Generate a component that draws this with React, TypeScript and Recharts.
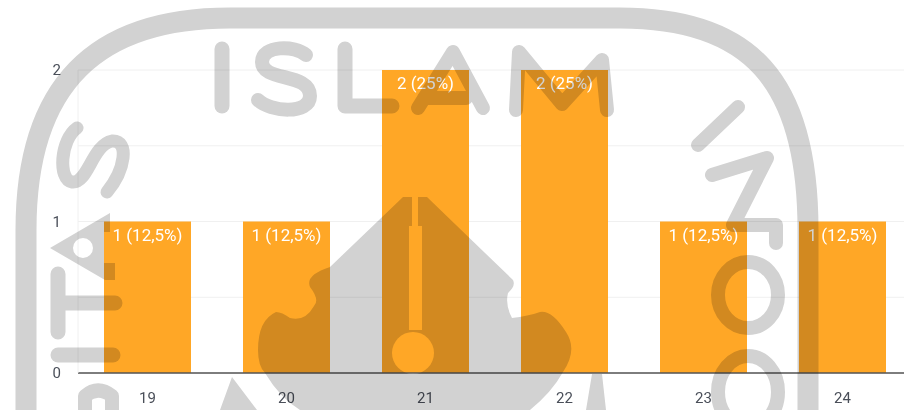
import React from "react";
import { BarChart, Bar, XAxis, YAxis, CartesianGrid, LabelList } from "recharts";

const ages = ["19", "20", "21", "22", "23", "24"];
const counts = [1, 1, 2, 2, 1, 1];
const labels = ["1 (12,5%)", "1 (12,5%)", "2 (25%)", "2 (25%)", "1 (12,5%)", "1 (12,5%)"];
const yTicks = [0, 0.5, 1, 1.5, 2];
const rows = ages.map((age, i) => ({ age, count: counts[i], label: labels[i] }));

const GRAY = "#d2d2d2";
const tickStyle = { fill: "#4a4f59", fontSize: 15, fontFamily: "Roboto" };

const strokes = [
  // frame
  { d: "M26 410 L26 230 C26 80 100 18 230 18 L620 18 C750 18 808 80 808 230 L808 410", w: 21 },
  // ISLAM
  { d: "M222 49 L222 106", w: 15 },
  { d: "M306 55 C295 45 262 45 262 62 C262 82 310 72 310 96 C310 115 270 112 258 100", w: 14 },
  { d: "M345 49 L345 106 L392 106", w: 15 },
  { d: "M418 108 L453 52 L483 108 M424 98 L466 98", w: 14 },
  { d: "M516 110 L519 52 L562 104 L602 60 L607 110", w: 14 },
  // IN
  { d: "M738 107 L698 145", w: 14 },
  { d: "M712 175 L767 158 L733 225 L776 225 L776 243", w: 14 },
  // left letters
  { d: "M77 128 C60 140 58 180 72 182 C88 184 92 145 112 141 C130 140 125 170 107 192", w: 13 },
  { d: "M60 303 L115 303 M58 274 L58 332", w: 15 },
  { d: "M58 355 L113 355", w: 15 },
  { d: "M85 410 L85 396 Q98 385 112 396 L112 410", w: 14 },
];

const Watermark = () => (
  <svg width={904} height={410} style={{ position: "absolute", left: 0, top: 0, mixBlendMode: "multiply", pointerEvents: "none" }}>
    {strokes.map((s, i) => (
      <path key={i} d={s.d} fill="none" stroke={GRAY} strokeWidth={s.w} strokeLinecap="round" strokeLinejoin="round" />
    ))}
    <path fillRule="evenodd" fill={GRAY} d="M50 248 L110 213 L110 232 L104 232 L104 263 L115 263 L115 280 L105 280 Z M73 248 a10 10 0 1 0 20 0 a10 10 0 1 0 -20 0 Z" />
    <ellipse cx={748} cy={295} rx={30} ry={33} fill="none" stroke={GRAY} strokeWidth={14} />
    <ellipse cx={748} cy={392} rx={30} ry={36} fill="none" stroke={GRAY} strokeWidth={14} />
    <path fill={GRAY} d="M403 197 L330 267 Q305 275 310 287 Q320 300 314 306 Q305 322 290 318 Q282 312 276 312 Q258 320 258 350 Q258 366 265 373 Q280 398 300 410 L530 410 Q552 392 563 372 Q578 350 566 332 Q552 310 540 312 Q528 316 512 318 Q505 305 508 293 Q516 286 513 280 L427 197 Z" />
    <path fill="#fff" d="M412 195 L418 195 L418 226 L422 226 L422 330 L409 330 L409 226 L412 226 Z" />
    <circle cx={413} cy={353} r={21} fill="#fff" />
    <path fill={GRAY} d="M232 377 L220 410 L257 410 Z M592 374 L602 374 L606 410 L586 410 Z" />
    <path fill={GRAY} d="M395 376 L432 376 L432 410 L395 410 Z" />
  </svg>
);

export default function App() {
  return (
    <div style={{ position: "absolute", left: 0, top: 0, width: 904, height: 410, background: "#fff", overflow: "hidden" }}>
      <BarChart width={904} height={410} data={rows} margin={{ top: 70, right: -8, bottom: 7, left: 0 }}>
        <CartesianGrid vertical={false} stroke="#f0f0f0" />
        <XAxis dataKey="age" axisLine={{ stroke: "#555", strokeWidth: 1.5 }} tickLine={false} tickMargin={13} tick={tickStyle} />
        <YAxis width={78} domain={[0, 2]} ticks={yTicks} axisLine={{ stroke: "#f0f0f0" }} tickLine={false} tickMargin={11} tickFormatter={(v: number) => (Number.isInteger(v) ? String(v) : "")} tick={tickStyle} />
        <Bar dataKey="count" fill="#ffa726" barSize={87} isAnimationActive={false}>
          <LabelList dataKey="label" position="insideTop" offset={7} fill="#fff" fontSize={17} fontFamily="Roboto" />
        </Bar>
      </BarChart>
      <Watermark />
    </div>
  );
}
